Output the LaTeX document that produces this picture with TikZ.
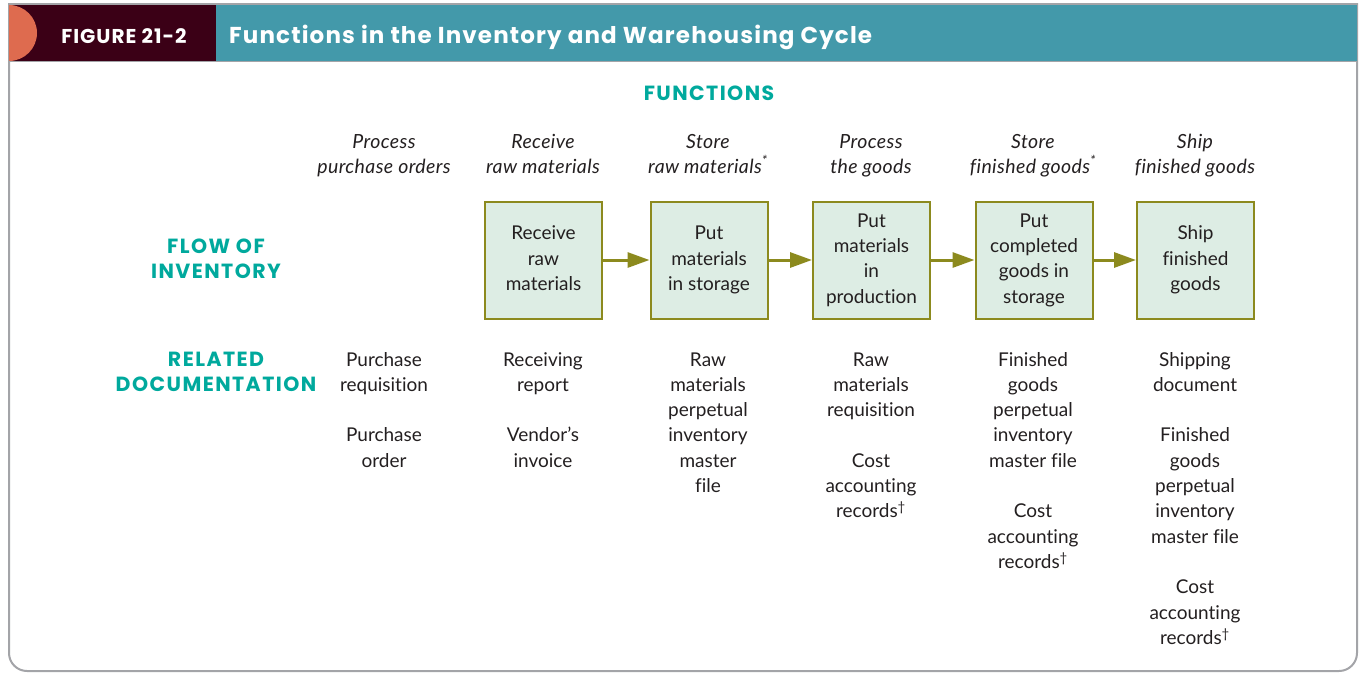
\documentclass[tikz,border=0pt]{standalone}
\usepackage{fontspec}
\setmainfont{Lato}[Ligatures={NoCommon}]
\newfontfamily\hfont{Poppins}[Ligatures={NoCommon},LetterSpace=7]
\newfontfamily\tfont{Poppins}[Ligatures={NoCommon},LetterSpace=5]
\newfontfamily\itfont{Lato Italic}[Ligatures={NoCommon},LetterSpace=2]
\usetikzlibrary{arrows.meta}
\definecolor{ink}{HTML}{231F20}
\definecolor{maroonband}{HTML}{3B0016}
\definecolor{tealband}{HTML}{4399AA}
\definecolor{orangecap}{HTML}{DE6B4F}
\definecolor{tealtxt}{HTML}{00A99D}
\definecolor{boxfill}{HTML}{DDEDE4}
\definecolor{olivec}{HTML}{8C8A1E}
\definecolor{framegrey}{HTML}{A3A4A8}
\newcommand{\bodyfont}{\fontsize{19}{25.3}\selectfont}
\newcommand{\labfont}{\fontsize{19.5}{25.3}\selectfont\itfont}
\newcommand{\headfont}{\fontsize{20.5}{25.3}\selectfont\hfont\bfseries}
\newcommand{\titlefont}{\fontsize{23}{28}\selectfont\tfont\bfseries}
\newcommand{\stk}[1]{\begin{tabular}[t]{@{}c@{}}#1\end{tabular}}
\newcommand{\cstk}[1]{\begin{tabular}{@{}c@{}}#1\end{tabular}}
\tikzset{
  txt/.style={inner sep=0pt, anchor=base, font=\bodyfont, text=ink},
  lab/.style={inner sep=0pt, anchor=base, font=\labfont, text=ink},
  head/.style={inner sep=0pt, anchor=base, font=\headfont, text=tealtxt},
  ttl/.style={inner sep=0pt, font=\titlefont, text=white},
  stepbox/.style={draw=olivec, line width=2pt, fill=boxfill, minimum width=117pt, minimum height=117pt, inner sep=0pt, font=\bodyfont, text=ink},
  flow/.style={draw=olivec, line width=3pt, -{Triangle[length=22pt,width=15pt]}},
  frame/.style={draw=framegrey, line width=2pt}
}
\begin{document}
\begin{tikzpicture}[x=1pt,y=1pt]
\useasboundingbox (0,0) rectangle (1361,-673);
% frame
\draw[frame] (9,-4) -- (1357,-4) -- (1357,-653) arc[start angle=0,end angle=-90,radius=18] -- (27,-671) arc[start angle=270,end angle=180,radius=18] -- cycle;
% header band
\fill[tealband] (9,-5) rectangle (1357,-61);
\fill[maroonband] (9,-5) rectangle (216,-61);
\fill[orangecap] (9,-5) arc[start angle=90,end angle=-90,radius=28] -- cycle;
\draw[framegrey, line width=1.5pt] (9,-61.5) -- (1357,-61.5);
\node[ttl, anchor=base, font=\fontsize{20}{26}\selectfont\tfont\bfseries] (fig) at (124,-43) {FIGURE 21-2};
\node[ttl, anchor=base west] (title) at (229,-43) {Functions in the Inventory and Warehousing Cycle};
% headings
\node[head] (functions) at (709,-100) {FUNCTIONS};
\node[head] (flowhd) at (216,-253) {\stk{FLOW OF\\INVENTORY}};
\node[head] (dochd) at (216,-366) {\stk{RELATED\\DOCUMENTATION}};
% function labels
\node[lab] (f1) at (384,-148) {\stk{Process\\purchase orders}};
\node[lab] (f2) at (543,-148) {\stk{Receive\\raw materials}};
\node[lab] (f3) at (708,-148) {\stk{Store\\raw materials\textsuperscript{*}}};
\node[lab] (f4) at (871,-148) {\stk{Process\\the goods}};
\node[lab] (f5) at (1033,-148) {\stk{Store\\finished goods\textsuperscript{*}}};
\node[lab] (f6) at (1195,-148) {\stk{Ship\\finished goods}};
% flow boxes
\node[stepbox] (b1) at (543.5,-260) {\cstk{Receive\\raw\\materials}};
\node[stepbox] (b2) at (709,-260) {\cstk{Put\\materials\\in storage}};
\node[stepbox] (b3) at (871.5,-260) {\cstk{Put\\materials\\in\\production}};
\node[stepbox] (b4) at (1034,-260) {\cstk{Put\\completed\\goods in\\storage}};
\node[stepbox] (b5) at (1195.5,-260) {\cstk{Ship\\finished\\goods}};
\draw[flow] (b1) -- (b2);
\draw[flow] (b2) -- (b3);
\draw[flow] (b3) -- (b4);
\draw[flow] (b4) -- (b5);
% documentation
\node[txt] (d1) at (384,-366) {\stk{Purchase\\requisition\\ \\Purchase\\order}};
\node[txt] (d2) at (543,-366) {\stk{Receiving\\report\\ \\Vendor’s\\invoice}};
\node[txt] (d3) at (708,-366) {\stk{Raw\\materials\\perpetual\\inventory\\master\\file}};
\node[txt] (d4) at (871,-366) {\stk{Raw\\materials\\requisition\\ \\Cost\\accounting\\records\textsuperscript{†}}};
\node[txt] (d5) at (1033,-366) {\stk{Finished\\goods\\perpetual\\inventory\\master file\\ \\Cost\\accounting\\records\textsuperscript{†}}};
\node[txt] (d6) at (1195,-366) {\stk{Shipping\\document\\ \\Finished\\goods\\perpetual\\inventory\\master file\\ \\Cost\\accounting\\records\textsuperscript{†}}};
\end{tikzpicture}
\end{document}
